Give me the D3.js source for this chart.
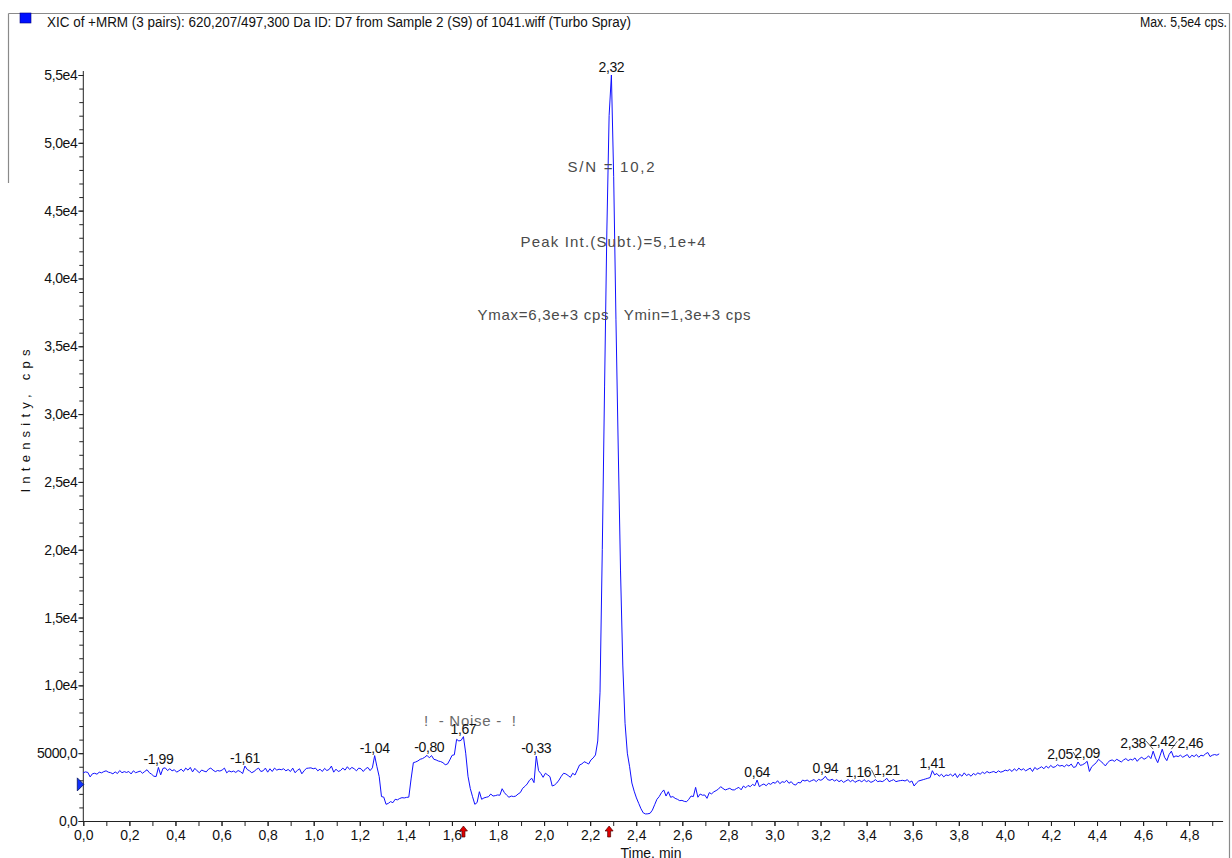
<!DOCTYPE html>
<html>
<head>
<meta charset="utf-8">
<script src="https://cdn.jsdelivr.net/npm/d3@7"></script>
<style>
  html, body { margin: 0; padding: 0; background: #fff; }
  svg { display: block; font-family: "Liberation Sans", Arial, sans-serif; }
  .pre { white-space: pre; }
</style>
</head>
<body>
<svg id="chart" width="1232" height="858"></svg>
<script>
// XIC trace: 500 scans over 4.94 min, intensities in cps (10 scans per row)
const scanInterval = 0.00988;
const intensity = [
  3560, 3620, 3580, 3250, 3480, 3520, 3450, 3600, 3550, 3640,
  3700, 3600, 3560, 3480, 3620, 3500, 3720, 3560, 3640, 3580,
  3650, 3470, 3700, 3560, 3620, 3680, 3520, 3650, 3780, 3560,
  3450, 3300, 3280, 3950, 3400, 3880, 3920, 3720, 3850, 3700,
  3780, 3600, 3700, 3820, 3650, 3900, 3750, 3950, 3620, 3880,
  3700, 3560, 3760, 3680, 3620, 3820, 3900, 3750, 3640, 3720,
  3680, 3760, 3900, 3550, 3700, 3620, 3680, 3580, 3720, 3640,
  3500, 4050, 3800, 3700, 3560, 3650, 3800, 3900, 3650, 3700,
  3900, 3600, 3850, 3650, 3900, 3750, 3820, 3780, 3850, 3700,
  3800, 3650, 3900, 3560, 3720, 3850, 3480, 3700, 3880, 3900,
  3920, 3850, 3900, 3700, 3820, 3650, 3880, 3720, 3800, 4050,
  3600, 3820, 3650, 3720, 3900, 3750, 4000, 3800, 3950, 3850,
  3700, 3900, 3850, 3650, 3850, 3950, 3720, 3920, 4820, 4000,
  3270, 1800, 1760, 1230, 1300, 1430, 1350, 1600, 1560, 1660,
  1720, 1700, 1740, 1760, 3100, 4300, 4350, 4430, 4550, 4600,
  4700, 4840, 4660, 4820, 4550, 4500, 4420, 4380, 4300, 4150,
  4200, 4500, 4840, 4880, 6020, 5900, 5950, 6220, 5000, 3300,
  2400, 1790, 1230, 1360, 2160, 1600, 1700, 1750, 1790, 1990,
  1840, 1870, 1920, 1900, 2380, 2090, 1900, 1750, 1840, 1800,
  1840, 1990, 2100, 2410, 2550, 2730, 3000, 3150, 2830, 4790,
  3710, 3500, 3220, 3520, 3400, 3270, 2580, 2650, 2800, 3020,
  3300, 3520, 3470, 3350, 3220, 3520, 3390, 3760, 4130, 4200,
  4370, 4300, 4200, 4500, 4650, 4870, 5900, 9500, 20000, 32000,
  43500, 52000, 55000, 47500, 37000, 27500, 18500, 11500, 7200, 5000,
  4000, 2800, 2200, 1700, 1300, 900, 600, 520, 530, 570,
  800, 1200, 1600, 1800, 2090, 2290, 1840, 2160, 1750, 1800,
  1670, 1600, 1500, 1520, 1450, 1420, 1600, 1840, 1800, 2480,
  1750, 1990, 1900, 1920, 1670, 2090, 2000, 2150, 2240, 2350,
  2530, 2400, 2290, 2350, 2410, 2300, 2290, 2400, 2480, 2300,
  2580, 2450, 2620, 2530, 2700, 2600, 3020, 2530, 2650, 2730,
  2600, 2780, 2700, 2850, 2780, 2970, 2750, 2900, 2850, 3000,
  2780, 2900, 2700, 2650, 2850, 2800, 3020, 2950, 3020, 2900,
  2980, 3050, 2900, 3070, 3000, 3100, 3300, 3050, 3000, 3080,
  2950, 3050, 2900, 3000, 2850, 2950, 3050, 2900, 3020, 2850,
  2950, 3000, 2880, 3050, 2900, 2980, 2850, 2920, 3050, 2900,
  2950, 2900, 3000, 3150, 2900, 2980, 3050, 2900, 2950, 2980,
  3000, 2950, 3050, 2850, 2950, 2580, 2800, 2950, 3000, 3050,
  3100, 3150, 3200, 3710, 3400, 3500, 3300, 3450, 3250, 3400,
  3350, 3450, 3300, 3500, 3200, 3450, 3300, 3550, 3350, 3450,
  3300, 3500, 3400, 3550, 3450, 3600, 3500, 3650, 3550, 3600,
  3650, 3550, 3700, 3600, 3650, 3750, 3700, 3800, 3650, 3850,
  3700, 3900, 3750, 3850, 3700, 3800, 3900, 3650, 3950, 3800,
  3900, 4000, 3850, 4050, 3900, 4100, 3950, 4000, 4150, 4050,
  4100, 4000, 4150, 4050, 4200, 3950, 4000, 4350, 4100, 4150,
  4250, 4400, 3650, 4000, 4150, 4300, 4550, 4400, 4250, 4060,
  4300, 4450, 4500, 4400, 4550, 4450, 4350, 4500, 4600, 4450,
  4550, 4500, 4650, 4400, 4600, 4700, 4550, 4650, 4800, 4600,
  5150, 4650, 4300, 4800, 5300, 4700, 4450, 4900, 5150, 4700,
  4800, 4750, 4850, 4700, 4800, 4900, 4650, 4850, 4750, 4900,
  4700, 4850, 4800, 4950, 5050, 4750, 4850, 4900, 4850, 4950
];

// Axis ticks
const xTicks = [0, 0.2, 0.4, 0.6, 0.8, 1.0, 1.2, 1.4, 1.6, 1.8, 2.0, 2.2, 2.4,
                2.6, 2.8, 3.0, 3.2, 3.4, 3.6, 3.8, 4.0, 4.2, 4.4, 4.6, 4.8];
const xTickLabels = ["0,0", "0,2", "0,4", "0,6", "0,8", "1,0", "1,2", "1,4", "1,6",
                     "1,8", "2,0", "2,2", "2,4", "2,6", "2,8", "3,0", "3,2", "3,4",
                     "3,6", "3,8", "4,0", "4,2", "4,4", "4,6", "4,8"];
const yTicks = [0, 5000, 10000, 15000, 20000, 25000, 30000, 35000, 40000, 45000, 50000, 55000];
const yTickLabels = ["0,0", "5000,0", "1,0e4", "1,5e4", "2,0e4", "2,5e4", "3,0e4",
                     "3,5e4", "4,0e4", "4,5e4", "5,0e4", "5,5e4"];

// Labelled maxima: scan index of each and the label the software printed
const peakScans = [33, 71, 128, 152, 167, 199, 232, 296, 326, 348, 353,
                   373, 437, 441, 470, 474, 478];
const peakLabels = ["-1,99", "-1,61", "-1,04", "-0,80", "1,67", "-0,33", "2,32", "0,64",
                    "0,94", "1,16", "1,21", "1,41", "2,05", "2,09", "2,38", "2,42", "2,46"];
// horizontal nudge (px) for labels pushed aside by a neighbour
const labelNudge = [0, 0, 0, 0, 0, 0, 0, 0, 0, -17, 0, 0, -18, 0, -20, 0, 19];

// Integration limits (scan indices) and the baseline level marker
const markerScans = [167, 231];
const baselineLevel = 2700;

const titleText = "XIC of +MRM (3 pairs): 620,207/497,300 Da ID: D7 from Sample 2 (S9) of 1041.wiff (Turbo Spray)";
const maxText = "Max. 5,5e4 cps.";
const infoLines = ["S/N = 10,2", "Peak Int.(Subt.)=5,1e+4", "Ymax=6,3e+3 cps   Ymin=1,3e+3 cps"];
const infoValues = [48200, 42700, 37300];   // vertical placement in cps units
const noiseText = "!  - Noise -  !";

const svg = d3.select("#chart");
const H = 858;

const x = d3.scaleLinear().domain([0, 4.945]).range([83.3, 1222.6]);
const y = d3.scaleLinear().domain([0, 55000]).range([821, 75]);

const trace = intensity.map((v, i) => ({ t: i * scanInterval, v }));

// frame around the pane
const frame = svg.append("g").attr("stroke", "#8a8a8a").attr("stroke-width", 1.2).attr("fill", "none");
frame.append("line").attr("x1", 8.5).attr("x2", 1229.5).attr("y1", 13.5).attr("y2", 13.5);
frame.append("line").attr("x1", 8.5).attr("x2", 8.5).attr("y1", 13.5).attr("y2", 183);
frame.append("line").attr("x1", 1229.5).attr("x2", 1229.5).attr("y1", 13.5).attr("y2", H);

// legend swatch and header
svg.append("rect").attr("x", 20).attr("y", 13).attr("width", 11).attr("height", 10)
  .attr("fill", "#0010ff").attr("stroke", "#000080").attr("stroke-width", 0.6);
svg.append("text").attr("x", 47).attr("y", 27).attr("font-size", 14)
  .attr("textLength", 584).attr("lengthAdjust", "spacingAndGlyphs")
  .attr("fill", "#111").text(titleText);
svg.append("text").attr("x", 1227).attr("y", 27).attr("font-size", 14)
  .attr("text-anchor", "end").attr("fill", "#111")
  .attr("textLength", 87).attr("lengthAdjust", "spacingAndGlyphs").text(maxText);

// x axis: minor ticks every 0.1 min, labels every 0.2 min
const xMinor = d3.range(0, 50).map(i => i / 10);
svg.append("g").attr("transform", `translate(0,${y(0)})`)
  .call(d3.axisBottom(x).tickValues(xMinor).tickSize(5).tickSizeOuter(0).tickFormat(""))
  .call(g => g.selectAll("line,path").attr("stroke", "#222"));
svg.append("g").attr("transform", `translate(0,${y(0)})`)
  .call(d3.axisBottom(x).tickValues(xTicks).tickSize(5).tickSizeOuter(0)
    .tickFormat((d, i) => xTickLabels[i]).tickPadding(4))
  .call(g => g.select(".domain").remove())
  .call(g => g.selectAll("line").attr("stroke", "#222"))
  .call(g => g.selectAll("text").attr("font-size", 14).attr("fill", "#111")
    .attr("font-family", "Liberation Sans, Arial, sans-serif"));

// y axis: minor ticks every 1000 cps
const yMinor = d3.range(0, 56).map(i => i * 1000);
svg.append("g").attr("transform", `translate(${x(0)},0)`)
  .call(d3.axisLeft(y).tickValues(yMinor).tickSize(4).tickSizeOuter(0).tickFormat(""))
  .call(g => g.select(".domain").attr("d", `M0,${y(0)}V71`))
  .call(g => g.selectAll("line,path").attr("stroke", "#222"));
svg.append("g").attr("transform", `translate(${x(0)},0)`)
  .call(d3.axisLeft(y).tickValues(yTicks).tickSize(5).tickSizeOuter(0)
    .tickFormat((d, i) => yTickLabels[i]).tickPadding(1))
  .call(g => g.select(".domain").remove())
  .call(g => g.selectAll("line").attr("stroke", "#222"))
  .call(g => g.selectAll("text").attr("font-size", 14).attr("fill", "#111")
    .attr("letter-spacing", "-0.4").attr("font-family", "Liberation Sans, Arial, sans-serif"));

// axis titles
svg.append("text").attr("x", 651).attr("y", 858).attr("text-anchor", "middle")
  .attr("font-size", 14).attr("fill", "#111").text("Time, min");
svg.append("text").attr("transform", "translate(30,421) rotate(-90)")
  .attr("text-anchor", "middle").attr("font-size", 13).attr("fill", "#111")
  .attr("textLength", 143).attr("lengthAdjust", "spacing").text("Intensity, cps");

// chromatogram trace
svg.append("path").datum(trace)
  .attr("fill", "none").attr("stroke", "#1010ff").attr("stroke-width", 1)
  .attr("stroke-linejoin", "round")
  .attr("d", d3.line().x(d => x(d.t)).y(d => y(d.v)));

// info text over the main peak
const infoWidths = [87, 185, 273];
svg.append("g").selectAll("text").data(infoLines).join("text")
  .attr("class", "pre")
  .attr("x", (d, i) => [611, 613, 614][i]).attr("y", (d, i) => y(infoValues[i]) + 5)
  .attr("text-anchor", "middle").attr("font-size", 15).attr("fill", "#4a4a4a")
  .attr("textLength", (d, i) => infoWidths[i]).attr("lengthAdjust", "spacing")
  .text(d => d);
svg.append("text").attr("class", "pre").attr("x", 470).attr("y", 726).attr("text-anchor", "middle")
  .attr("font-size", 15).attr("fill", "#6a6a6a")
  .attr("textLength", 92).attr("lengthAdjust", "spacing").text(noiseText);

// peak labels anchored at the local maximum of the trace (±1 scan)
const peaks = peakScans.map((s, i) => ({
  t: s * scanInterval,
  label: peakLabels[i],
  nudge: labelNudge[i],
  v: d3.max(intensity.slice(Math.max(0, s - 1), s + 2))
}));
const pg = svg.append("g").attr("font-size", 14).attr("fill", "#111");
peaks.forEach(p => {
  const px = x(p.t), py = y(p.v);
  const lx = px + p.nudge;
  pg.append("text").attr("x", lx).attr("y", py - 3).attr("text-anchor", "middle")
    .attr("letter-spacing", "-0.4").text(p.label);
  if (p.nudge !== 0) {
    const ex = p.nudge < 0 ? lx + 13 : lx - 13;
    pg.append("line").attr("x1", ex).attr("y1", py - 10).attr("x2", px).attr("y2", py - 2)
      .attr("stroke", "#333").attr("stroke-width", 0.8);
  }
});

// baseline level marker on the intensity axis
const by = y(baselineLevel);
svg.append("path")
  .attr("d", `M${x(0) - 6},${by - 6.5}L${x(0) + 0.5},${by}L${x(0) - 6},${by + 6.5}Z`)
  .attr("fill", "#1030ff").attr("stroke", "#001060").attr("stroke-width", 0.8);

// integration markers below the time axis
svg.append("g").selectAll("path").data(markerScans).join("path")
  .attr("d", s => {
    const cx = x(s * scanInterval), top = y(0) + 5;
    return `M${cx},${top}L${cx + 4},${top + 5}L${cx + 1.5},${top + 5}L${cx + 1.5},${top + 11}` +
           `L${cx - 1.5},${top + 11}L${cx - 1.5},${top + 5}L${cx - 4},${top + 5}Z`;
  })
  .attr("fill", "#e00000").attr("stroke", "#500000").attr("stroke-width", 0.7);
</script>
</body>
</html>
